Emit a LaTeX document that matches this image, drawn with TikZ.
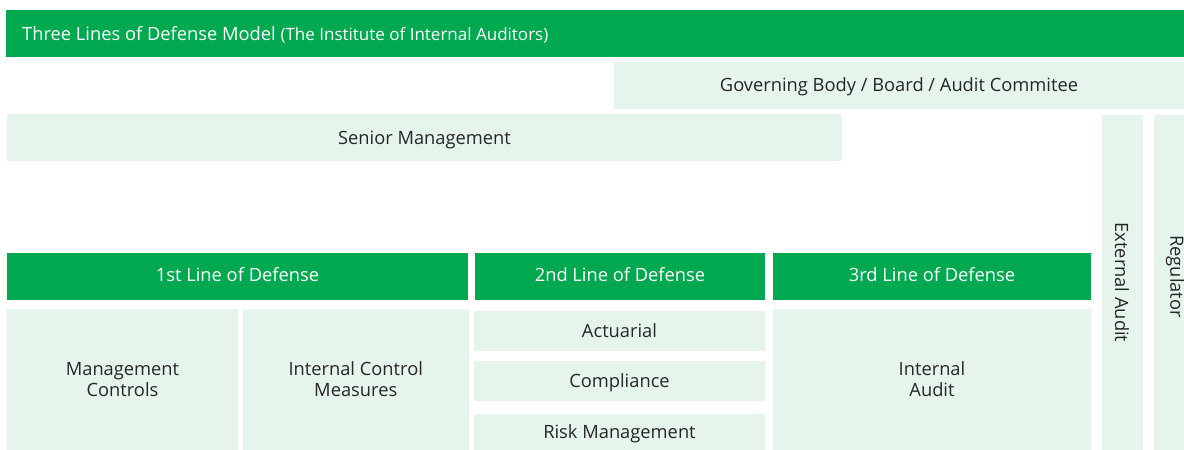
\documentclass[tikz,border=0pt]{standalone}
\usepackage{fontspec}
\setmainfont{Open Sans}
\definecolor{lodgreen}{HTML}{00A84F}
\definecolor{lodlight}{HTML}{E5F5EC}
\definecolor{lodtext}{HTML}{262626}
\begin{document}
\begin{tikzpicture}[x=1pt,y=-1pt,
  base/.style={rectangle,inner sep=0pt,outer sep=0pt,align=center,font=\fontsize{18.3}{21}\selectfont},
  hdr/.style={base,fill=lodgreen,text=white,text height=13pt,text depth=4pt},
  cell/.style={base,fill=lodlight,text=lodtext},
  one/.style={text height=13pt,text depth=0pt},
  lbl/.style={inner sep=0pt,outer sep=0pt,align=center,font=\fontsize{18.3}{21}\selectfont,text=lodtext},
  bw/.style={minimum width=#1pt},
  bh/.style={minimum height=#1pt}]
\useasboundingbox (0,0) rectangle (1184,450);
% top bars
\node[hdr,bw=1178,bh=47] (title) at (595,33.5) {};
\node[anchor=west,inner sep=0pt,text=white,font=\fontsize{18.3}{21}\selectfont,text height=13pt,text depth=0pt] (titletext) at ([xshift=16pt]title.west)
  {Three Lines of Defense Model {\fontsize{17}{21}\selectfont (The Institute of Internal Auditors)}};
\node[cell,one,bw=570,bh=46.5] (gov) at (899,85.25) {Governing Body / Board / Audit Commitee};
\node[cell,one,bw=835,bh=47] (senior) at (424.5,137.5) {Senior Management};
% vertical columns
\node[cell,bw=41,bh=335] (ext) at (1122.5,282.5) {};
\node[lbl,rotate=-90] (exttext) at (1122,282.5) {External Audit};
\node[cell,bw=30,bh=335] (reg) at (1169,282.5) {};
\node[lbl,rotate=-90] (regtext) at (1175,276.5) {Regulator};
% headers
\node[hdr,bw=461,bh=47] (h1) at (237.5,276.5) {1st Line of Defense};
\node[hdr,bw=290,bh=47] (h2) at (620,276.5) {2nd Line of Defense};
\node[hdr,bw=318,bh=47] (h3) at (932,276.5) {3rd Line of Defense};
% cells
\node[cell,bw=231,bh=141] (mc) at (122.5,379.5) {Management\\Controls};
\node[cell,bw=225.5,bh=141] (icm) at (355.75,379.5) {Internal Control\\Measures};
\node[cell,one,bw=291,bh=40] (act) at (619.5,331) {Actuarial};
\node[cell,one,bw=291,bh=40] (comp) at (619.5,381) {Compliance};
\node[cell,one,bw=291,bh=36] (risk) at (619.5,432) {Risk Management};
\node[cell,bw=318,bh=141] (ia) at (932,379.5) {Internal\\Audit};
\end{tikzpicture}
\end{document}
